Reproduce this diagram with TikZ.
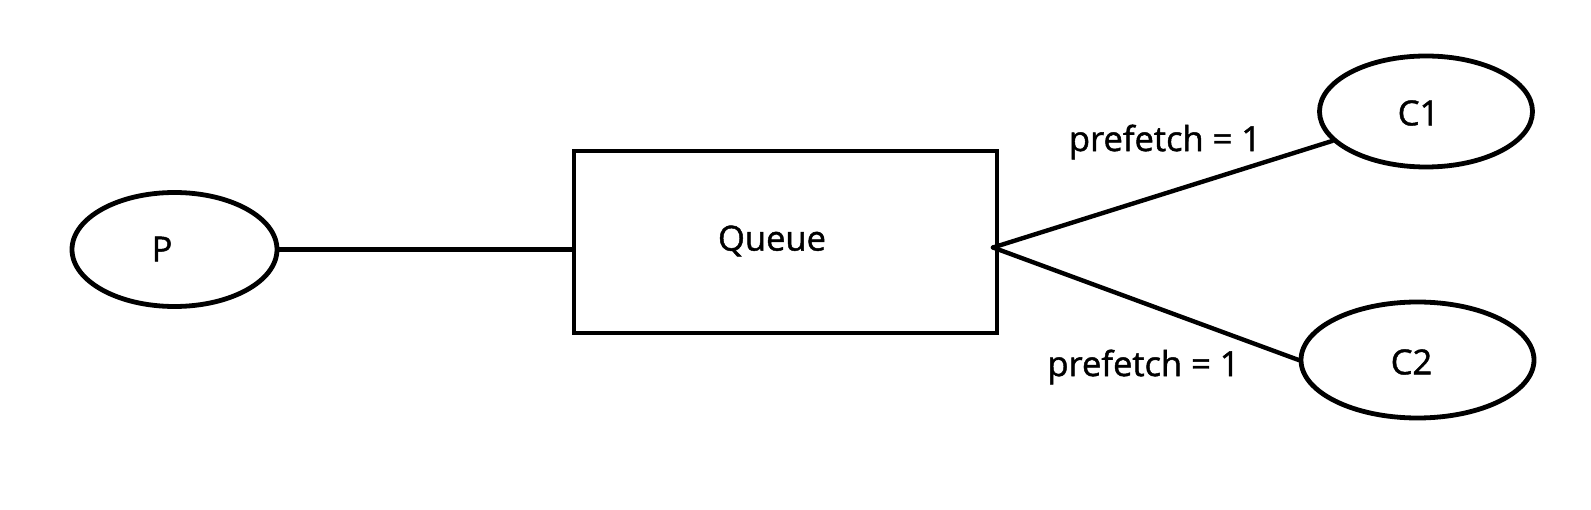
\documentclass[tikz,border=0pt]{standalone}
\usepackage{fontspec}
\setmainfont{Open Sans}
\newfontfamily\lblfont[FakeBold=1.3]{Open Sans}
\usetikzlibrary{shapes.geometric,calc}
\tikzset{
  shapeline/.style={draw=black, line width=4.8pt},
  oval/.style={shapeline, ellipse, inner sep=0pt},
  conn/.style={draw=black, line width=4.4pt, line cap=round},
  lbl/.style={inner sep=0pt, font=\lblfont\fontsize{34.5}{40}\selectfont}
}
\begin{document}
\begin{tikzpicture}[x=1pt,y=-1pt]
\useasboundingbox[fill=white] (0,0) rectangle (1591,510);
% nodes
\node[oval, minimum width=205pt, minimum height=114pt] (P) at (174.5,249.5) {};
\node[lbl] (Pt) at (162,249) {P};
\node[shapeline, rectangle, minimum width=423pt, minimum height=182pt, inner sep=0pt] (Q) at (785.5,242) {};
\node[lbl] (Qt) at (772,241) {Queue};
\node[oval, minimum width=213pt, minimum height=111pt] (C1) at (1426,111.5) {};
\node[lbl] (C1t) at (1418.5,113) {C1};
\node[oval, minimum width=233pt, minimum height=116pt] (C2) at (1417.5,360) {};
\node[lbl] (C2t) at (1411.5,362) {C2};
\coordinate (J) at (993,247.5);
% connectors
\draw[conn] (P.east) -- (P.east -| Q.west);
\draw[conn] (J) -- (C1);
\draw[conn] (J) -- (C2.west);
% labels
\node[lbl] (L1) at (1165,142) {prefetch = 1};
\node[lbl] (L2) at (1143.5,367) {prefetch = 1};
\end{tikzpicture}
\end{document}
